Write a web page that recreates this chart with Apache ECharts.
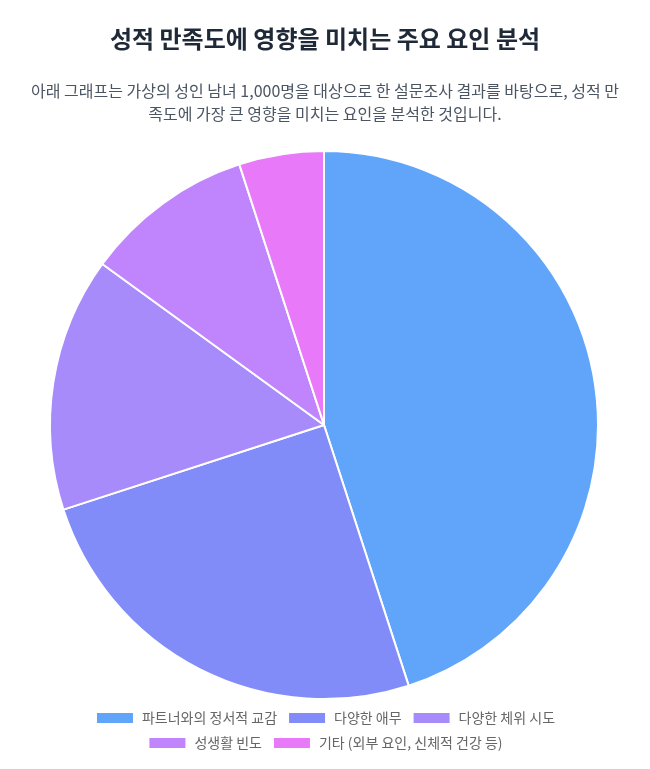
<!DOCTYPE html>
<html>
<head>
<meta charset="utf-8">
<script src="https://cdn.jsdelivr.net/npm/echarts@6/dist/echarts.min.js"></script>
<style>
  body { margin: 0; background: #fff; font-family: "Noto Sans CJK KR", "Noto Sans", sans-serif; }
  #wrap { position: relative; width: 650px; height: 769px; }
  #main { position: absolute; left: 0; top: 0; width: 650px; height: 769px; }
  h1 { position: absolute; top: 21px; left: 0; width: 650px; margin: 0; text-align: center;
       font-size: 24px; font-weight: 700; color: #1f2937; line-height: 34px; z-index: 2; }
  p { position: absolute; top: 79px; left: 24px; width: 602px; margin: 0; text-align: center;
      font-size: 16px; color: #4b5563; line-height: 23px; z-index: 2; }
</style>
</head>
<body>
<div id="wrap">
  <div id="main"></div>
  <h1>성적 만족도에 영향을 미치는 주요 요인 분석</h1>
  <p>아래 그래프는 가상의 성인 남녀 1,000명을 대상으로 한 설문조사 결과를 바탕으로, 성적 만족도에 가장 큰 영향을 미치는 요인을 분석한 것입니다.</p>
</div>
<script>
var factors = ['파트너와의 정서적 교감', '다양한 애무', '다양한 체위 시도', '성생활 빈도', '기타 (외부 요인, 신체적 건강 등)'];
var shares = [45, 25, 15, 10, 5];
var colors = ['#60a5fa', '#818cf8', '#a78bfa', '#c084fc', '#e879f9'];

// legend split into two centered rows
function legendRow(names, top) {
	return {
		left: 'center',
		top: top,
		itemWidth: 38,
		itemHeight: 12,
		itemGap: 10,
		icon: 'rect',
		data: names,
		textStyle: {
			fontSize: 14,
			color: '#666',
			padding: [0, 0, 0, 3],
			fontFamily: '"Noto Sans CJK KR", sans-serif'
		}
	};
}

var myChart = echarts.init(document.getElementById('main'));
var option = {
	color: colors,
	animation: false,
	legend: [
		legendRow(factors.slice(0, 3), 706),
		legendRow(factors.slice(3), 731)
	],
	series: [{
		type: 'pie',
		radius: 274,
		center: [324, 425],
		startAngle: 90,
		label: { show: false },
		labelLine: { show: false },
		itemStyle: {
			borderColor: '#fff',
			borderWidth: 2
		},
		data: factors.map(function (name, i) {
			return { name: name, value: shares[i] };
		})
	}]
};
myChart.setOption(option);
</script>
</body>
</html>
